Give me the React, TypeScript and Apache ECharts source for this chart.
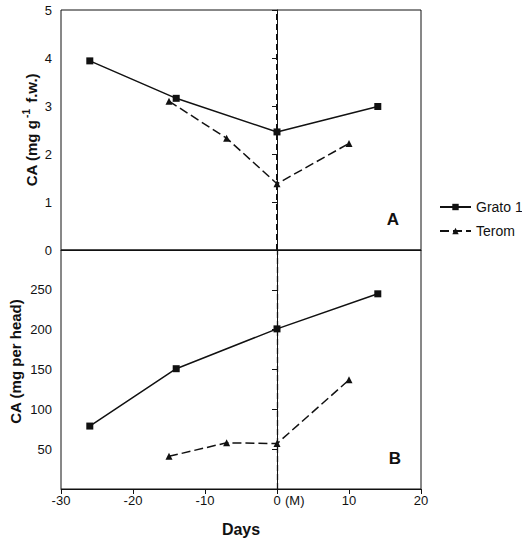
import React, { useEffect, useRef } from "react";
import * as echarts from "echarts";

// Sampling days relative to maturity (M = day 0)
const gratoDays = [-26, -14, 0, 14];
const teromDays = [-15, -7, 0, 10];

// Panel A: CA concentration (mg g-1 f.w.)
const gratoConc = [3.94, 3.16, 2.46, 2.99];
const teromConc = [3.1, 2.33, 1.38, 2.22];

// Panel B: CA content (mg per head)
const gratoHead = [79, 151, 201, 245];
const teromHead = [41, 58, 57, 137];

const dayTicks = [-30, -20, -10, 0, 10, 20];

const FONT = "Liberation Sans, Arial, sans-serif";
const INK = "#111";

const pairs = (xs: number[], ys: number[]) => xs.map((x, i) => [x, ys[i]]);

export default function App() {
  const ref = useRef<HTMLDivElement>(null);

  useEffect(() => {
    if (!ref.current) return;
    const chart = echarts.init(ref.current, undefined, { renderer: "svg" });

    const axisLine = { show: true, lineStyle: { color: INK, width: 1 } };
    const tickLabel = { color: INK, fontFamily: FONT, fontSize: 13 };

    const vline = (width: number, dash: number[]) => ({
      silent: true,
      symbol: "none",
      label: { show: false },
      lineStyle: { color: INK, width, type: dash },
      data: [{ xAxis: 0 }],
    });

    const solid = { color: INK, width: 1.5, type: "solid" as const };
    const dashed = { color: INK, width: 1.5, type: [9, 4] };

    chart.setOption({
      animation: false,
      backgroundColor: "#fff",
      grid: [
        { left: 61, top: 10, width: 360, height: 240, show: true, borderColor: INK, borderWidth: 1 },
        { left: 61, top: 250, width: 360, height: 239, show: true, borderColor: INK, borderWidth: 1 },
      ],
      xAxis: [
        {
          type: "value", gridIndex: 0, min: -30, max: 20, interval: 10,
          axisLine, axisTick: { show: false }, axisLabel: { show: false }, splitLine: { show: false },
        },
        {
          type: "value", gridIndex: 1, min: -30, max: 20, interval: 10,
          axisLine, axisTick: { show: true, length: 5, lineStyle: { color: INK } },
          axisLabel: { ...tickLabel, margin: 5, formatter: (v: number) => (dayTicks.includes(v) ? String(v) : "") },
          splitLine: { show: false },
          name: "Days", nameLocation: "middle", nameGap: 32,
          nameTextStyle: { color: INK, fontFamily: FONT, fontSize: 16, fontWeight: "bold" },
        },
      ],
      yAxis: [
        {
          type: "value", gridIndex: 0, min: 0, max: 5, interval: 1,
          axisLine, axisTick: { show: true, length: 5, lineStyle: { color: INK } },
          axisLabel: { ...tickLabel, margin: 9 }, splitLine: { show: false },
        },
        {
          type: "value", gridIndex: 1, min: 0, max: 300, interval: 50,
          axisLine, axisTick: { show: true, length: 5, lineStyle: { color: INK } },
          axisLabel: { ...tickLabel, margin: 9, formatter: (v: number) => (v === 0 || v === 300 ? "" : String(v)) },
          splitLine: { show: false },
        },
      ],
      legend: {
        orient: "vertical",
        left: 434,
        top: 195,
        itemWidth: 31,
        itemHeight: 8,
        itemGap: 10,
        textStyle: { color: INK, fontFamily: FONT, fontSize: 14 },
        data: ["Grato 1", "Terom"],
      },
      series: [
        {
          name: "Grato 1", type: "line", xAxisIndex: 0, yAxisIndex: 0,
          data: pairs(gratoDays, gratoConc), symbol: "rect", symbolSize: 7,
          itemStyle: { color: INK }, lineStyle: solid,
          markLine: vline(2, [6, 4]),
        },
        {
          name: "Terom", type: "line", xAxisIndex: 0, yAxisIndex: 0,
          data: pairs(teromDays, teromConc), symbol: "triangle", symbolSize: 7,
          itemStyle: { color: INK }, lineStyle: dashed,
        },
        {
          name: "Grato 1", type: "line", xAxisIndex: 1, yAxisIndex: 1,
          data: pairs(gratoDays, gratoHead), symbol: "rect", symbolSize: 7,
          itemStyle: { color: INK }, lineStyle: solid,
          markLine: vline(1.3, [6, 3]),
        },
        {
          name: "Terom", type: "line", xAxisIndex: 1, yAxisIndex: 1,
          data: pairs(teromDays, teromHead), symbol: "triangle", symbolSize: 7,
          itemStyle: { color: INK }, lineStyle: dashed,
        },
      ],
    });

    // Annotations placed from the axes' own scales
    const [zeroX, zeroY] = chart.convertToPixel({ xAxisIndex: 1, yAxisIndex: 1 }, [0, 0]) as number[];
    const [rightX, topMidY] = chart.convertToPixel({ xAxisIndex: 0, yAxisIndex: 0 }, [20, 0]) as number[];
    const [, topY] = chart.convertToPixel({ xAxisIndex: 0, yAxisIndex: 0 }, [0, 5]) as number[];
    const [, midB] = chart.convertToPixel({ xAxisIndex: 1, yAxisIndex: 1 }, [0, 150]) as number[];

    chart.setOption({
      graphic: [
        {
          type: "text", x: zeroX + 8, y: zeroY + 5 + 6.5,
          style: { text: "(M)", fill: INK, font: `13px ${FONT}`, align: "left", verticalAlign: "middle" },
        },
        {
          type: "text", x: rightX - 28, y: topMidY - 31,
          style: { text: "A", fill: INK, font: `bold 17px ${FONT}`, align: "center", verticalAlign: "middle" },
        },
        {
          type: "text", x: rightX - 26, y: zeroY - 31,
          style: { text: "B", fill: INK, font: `bold 17px ${FONT}`, align: "center", verticalAlign: "middle" },
        },
        {
          type: "text", x: 30, y: (topY + topMidY) / 2,
          rotation: Math.PI / 2,
          style: {
            text: "{t|CA (mg g}{s|-1}{t| f.w.)}",
            align: "center", verticalAlign: "middle",
            rich: {
              t: { fill: INK, font: `bold 15px ${FONT}`, verticalAlign: "bottom" },
              s: { fill: INK, font: `bold 10px ${FONT}`, verticalAlign: "top", padding: [0, 2, 8, 2] },
            },
          },
        },
        {
          type: "text", x: 15, y: midB - 8,
          rotation: Math.PI / 2,
          style: {
            text: "CA (mg per head)", fill: INK, font: `bold 15px ${FONT}`,
            align: "center", verticalAlign: "middle",
          },
        },
      ],
    });

    return () => chart.dispose();
  }, []);

  return (
    <div
      ref={ref}
      style={{ position: "fixed", left: 0, top: 0, width: 522, height: 540, background: "#fff" }}
    />
  );
}
